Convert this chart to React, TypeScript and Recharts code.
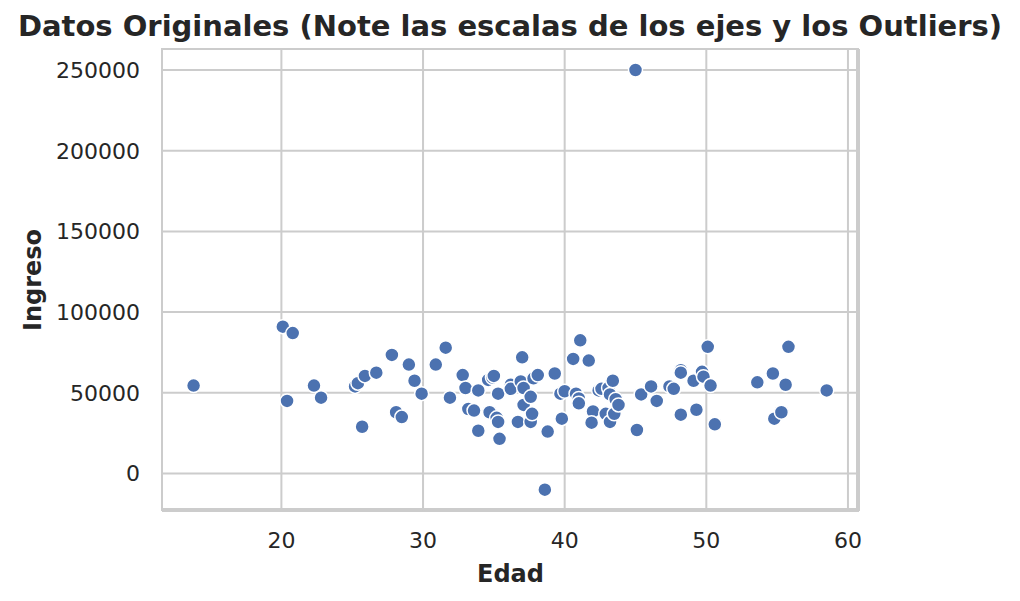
import {
  ScatterChart,
  Scatter,
  XAxis,
  YAxis,
  CartesianGrid,
  Label,
} from "recharts";

// values (Edad vs Ingreso)
const edad = [
  13.8, 20.1, 20.8, 20.4, 22.3, 22.8, 25.2, 25.4, 25.9, 25.7, 26.7, 27.8, 28.1,
  28.5, 29.0, 29.4, 29.9, 30.9, 31.6, 31.9, 32.8, 33.0, 33.2, 33.6, 33.9, 33.9,
  34.6, 34.7, 34.9, 35.0, 35.2, 35.3, 35.4, 35.3, 36.2, 36.2, 36.7, 36.9, 37.0,
  37.1, 37.1, 37.6, 37.6, 37.7, 37.8, 38.1, 38.6, 38.8, 39.3, 39.7, 39.8, 40.0,
  40.6, 40.8, 41.0, 41.0, 41.1, 41.7, 42.0, 41.9, 42.4, 42.6, 42.9, 43.1, 43.2,
  43.2, 43.4, 43.5, 43.6, 43.8, 45.1, 45.0, 45.4, 46.1, 46.5, 47.4, 47.7, 48.2,
  48.2, 48.2, 49.1, 49.3, 49.7, 49.8, 50.1, 50.3, 50.6, 53.6, 54.7, 54.8, 55.3,
  55.6, 55.8, 58.5,
];
const ingreso = [
  54500, 91000, 87000, 45000, 54500, 47000, 54000, 56000, 60500, 29000, 62500,
  73500, 38000, 35000, 67500, 57500, 49500, 67500, 78000, 47000, 61000, 53000,
  40000, 39000, 26500, 51500, 58000, 38000, 59500, 60500, 34500, 32000, 21500,
  49500, 55000, 52500, 32000, 57000, 72000, 53000, 42500, 47500, 32000, 37000,
  59000, 61000, -10000, 26000, 62000, 49500, 34000, 51000, 71000, 49500, 46500,
  43500, 82500, 70000, 38500, 31500, 51500, 52500, 37000, 53000, 32000, 49000,
  57500, 37000, 46000, 42500, 27000, 250000, 49000, 54000, 45000, 54000, 52500,
  64000, 62500, 36500, 57500, 39500, 63000, 60000, 78500, 54500, 30500, 56500,
  62000, 34000, 38000, 55000, 78500, 51500,
];

const xTicks = [20, 30, 40, 50, 60];
const yTicks = [0, 50000, 100000, 150000, 200000, 250000];

const data = edad.map((e, i) => ({ edad: e, ingreso: ingreso[i] }));

const ink = "#262626";
const font = "'DejaVu Sans', sans-serif";

const Dot = (props: any) => (
  <circle
    cx={props.cx}
    cy={props.cy}
    r={7}
    fill="#4c72b0"
    stroke="#ffffff"
    strokeWidth={1.5}
  />
);

export default function App() {
  return (
    <div
      style={{
        position: "absolute",
        left: 0,
        top: 0,
        width: 1020,
        height: 601,
        background: "#fff",
        fontFamily: font,
      }}
    >
      <div
        style={{
          position: "absolute",
          top: 8,
          left: 0,
          width: 1020,
          textAlign: "center",
          fontSize: 29,
          fontWeight: "bold",
          color: ink,
          lineHeight: "36px",
        }}
      >
        Datos Originales (Note las escalas de los ejes y los Outliers)
      </div>
      <ScatterChart
        width={1020}
        height={601}
        margin={{ top: 49, right: 161, bottom: 0, left: 0 }}
      >
        <CartesianGrid stroke="#cccccc" strokeWidth={2} />
        <XAxis
          type="number"
          dataKey="edad"
          domain={[11.57, 60.78]}
          ticks={xTicks}
          allowDataOverflow
          height={90}
          tickLine={false}
          axisLine={false}
          tickSize={0}
          tickMargin={21}
          tick={{ fill: ink, fontSize: 22, fontFamily: font }}
        >
          <Label
            value="Edad"
            position="insideBottom"
            offset={19}
            style={{ fill: ink, fontSize: 24, fontWeight: "bold", fontFamily: font }}
          />
        </XAxis>
        <YAxis
          type="number"
          dataKey="ingreso"
          domain={[-23200, 263000]}
          ticks={yTicks}
          allowDataOverflow
          width={162}
          tickLine={false}
          axisLine={false}
          tickSize={0}
          tickMargin={22}
          tick={{ fill: ink, fontSize: 22, fontFamily: font }}
        >
          <Label
            content={(props: any) => {
              const vb = props.viewBox || { y: 49, height: 462 };
              const cx = 41;
              const cy = vb.y + vb.height / 2;
              return (
                <text
                  x={cx}
                  y={cy}
                  transform={`rotate(-90 ${cx} ${cy})`}
                  textAnchor="middle"
                  fill={ink}
                  fontSize={24}
                  fontWeight="bold"
                  fontFamily={font}
                >
                  Ingreso
                </text>
              );
            }}
          />
        </YAxis>
        <Scatter data={data} shape={Dot} isAnimationActive={false} />
      </ScatterChart>
      <div
        style={{
          position: "absolute",
          left: 161,
          top: 48,
          width: 697,
          height: 462,
          border: "2.5px solid #cccccc",
          boxSizing: "border-box",
          pointerEvents: "none",
        }}
      />
    </div>
  );
}
